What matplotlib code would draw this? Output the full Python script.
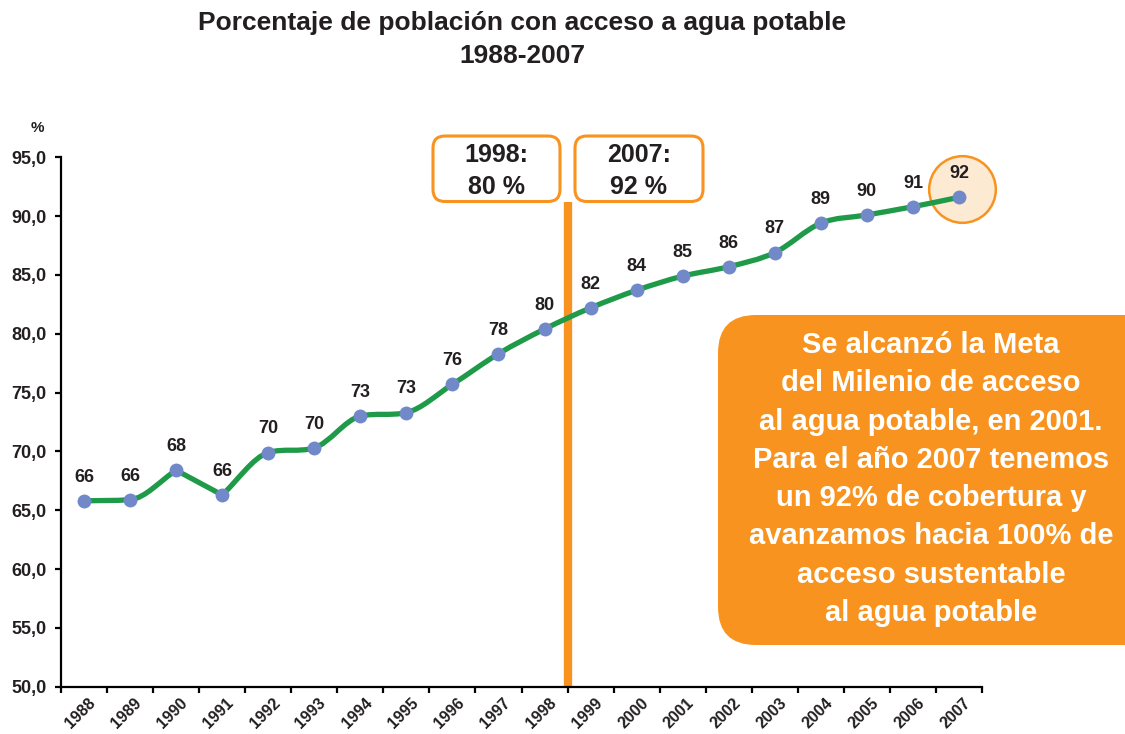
import matplotlib
matplotlib.use("Agg")
import matplotlib.pyplot as plt
from matplotlib.path import Path
from matplotlib.patches import PathPatch, FancyBboxPatch
from matplotlib.transforms import ScaledTranslation
import numpy as np

plt.rcParams['font.family'] = ['Liberation Sans', 'DejaVu Sans']
plt.rcParams['font.weight'] = 'bold'

# ---- data ----
years = ['1988', '1989', '1990', '1991', '1992', '1993', '1994', '1995', '1996', '1997',
         '1998', '1999', '2000', '2001', '2002', '2003', '2004', '2005', '2006', '2007']
values = [65.8, 65.9, 68.4, 66.3, 69.9, 70.3, 73.0, 73.3, 75.7, 78.3,
          80.4, 82.2, 83.7, 84.9, 85.7, 86.9, 89.4, 90.1, 90.8, 91.6]
point_labels = ['66', '66', '68', '66', '70', '70', '73', '73', '76', '78',
                '80', '82', '84', '85', '86', '87', '89', '90', '91', '92']
yticks = [50, 55, 60, 65, 70, 75, 80, 85, 90, 95]
ytick_labels = ['50,0', '55,0', '60,0', '65,0', '70,0', '75,0', '80,0', '85,0', '90,0', '95,0']
title_lines = ['Porcentaje de población con acceso a agua potable', '1988-2007']
box_texts = ['1998:\n80 %', '2007:\n92 %']
callout_lines = ['Se alcanzó la Meta', 'del Milenio de acceso', 'al agua potable, en 2001.',
                 'Para el año 2007 tenemos', 'un 92% de cobertura y',
                 'avanzamos hacia 100% de', 'acceso sustentable', 'al agua potable']
marker_year = '1998'

ORANGE = '#F7931E'
GREEN = '#1F9A48'
BLUE = '#7189C9'
TXT = '#231F20'

W, H, DPI = 1125, 734, 100
fig = plt.figure(figsize=(W / DPI, H / DPI), dpi=DPI)
fig.patch.set_facecolor('white')

ax = fig.add_axes([61 / W, 1 - 686.7 / H, (982 - 61) / W, (686.7 - 157.3) / H])
x = np.arange(len(years), dtype=float)
y = np.array(values, dtype=float)
ax.set_xlim(-0.5, len(years) - 0.5)
ax.set_ylim(50, 95)

# smoothed line: cubic Bezier through the data points,
# monotone-limited tangents and corners at local extrema
d = np.diff(y) / np.diff(x)
n = len(y)
m_left = np.zeros(n)
m_right = np.zeros(n)
m_right[0] = d[0]
m_left[-1] = d[-1]
for i in range(1, n - 1):
    a, b = d[i - 1], d[i]
    if a * b <= 0:
        m_left[i], m_right[i] = a, b
    else:
        m = (a + b) / 2.0
        lim = 3 * min(abs(a), abs(b))
        m = np.sign(m) * min(abs(m), lim)
        m_left[i] = m_right[i] = m
verts = [(x[0], y[0])]
codes = [Path.MOVETO]
for i in range(n - 1):
    h = x[i + 1] - x[i]
    verts += [(x[i] + h / 3, y[i] + m_right[i] * h / 3),
              (x[i + 1] - h / 3, y[i + 1] - m_left[i + 1] * h / 3),
              (x[i + 1], y[i + 1])]
    codes += [Path.CURVE4] * 3
ax.add_patch(PathPatch(Path(verts, codes), fill=False, edgecolor=GREEN, lw=3.8,
                       capstyle='round', joinstyle='round', zorder=3))
ax.plot(x, y, 'o', color=BLUE, markersize=10, markeredgewidth=0, zorder=4)

# vertical orange marker between 1998 and 1999
xi = years.index(marker_year) + 0.5
ax.plot([xi, xi], [50, 91.2], color=ORANGE, lw=6, solid_capstyle='butt', zorder=2, clip_on=False)

# highlight circle on last point
off = ScaledTranslation(2.5 / 72, 6 / 72, fig.dpi_scale_trans)
ax.plot([x[-1]], [y[-1]], 'o', markersize=48, markerfacecolor='#FDEAD3',
        markeredgecolor=ORANGE, markeredgewidth=1.8, zorder=1, clip_on=False,
        transform=ax.transData + off)

for xv, yv, lab in zip(x, y, point_labels):
    ax.annotate(lab, (xv, yv), xytext=(0, 17), textcoords='offset points',
                ha='center', va='center', fontsize=13, fontweight='bold', color=TXT, zorder=5)

# axes styling
for s in ['top', 'right']:
    ax.spines[s].set_visible(False)
for s in ['left', 'bottom']:
    ax.spines[s].set_linewidth(1.6)
    ax.spines[s].set_color('black')
ax.set_yticks(yticks)
ax.set_yticklabels(ytick_labels, fontsize=13, fontweight='bold', color=TXT)
ax.tick_params(axis='y', direction='out', length=4.5, width=1.6, pad=6)
ax.set_xticks(np.arange(-0.5, len(years), 1.0))
ax.set_xticklabels([])
ax.tick_params(axis='x', which='major', direction='out', length=4.5, width=1.6)
ax.set_xticks(x, minor=True)
ax.set_xticklabels(years, minor=True, rotation=45, ha='right', va='top',
                   rotation_mode='anchor', fontsize=11.5, fontweight='bold', color=TXT)
ax.tick_params(axis='x', which='minor', length=0, pad=6)
dx = ScaledTranslation(4 / 100, 0, fig.dpi_scale_trans)
for lbl in ax.get_xticklabels(minor=True):
    lbl.set_transform(lbl.get_transform() + dx)

# overlay in pixel coordinates for annotations
ov = fig.add_axes([0, 0, 1, 1], zorder=10)
ov.set_xlim(0, W)
ov.set_ylim(H, 0)
ov.axis('off')
ov.patch.set_visible(False)

ov.text(522, 23, title_lines[0], ha='center', va='center', fontsize=19, fontweight='bold', color=TXT)
ov.text(522, 56, title_lines[1], ha='center', va='center', fontsize=19, fontweight='bold', color=TXT)
ov.text(37, 128, '%', ha='center', va='center', fontsize=11, fontweight='bold', color=TXT)

for (x0, x1), t in zip([(433, 560), (575, 703)], box_texts):
    ov.add_patch(FancyBboxPatch((x0, 136), x1 - x0, 65.5,
                                boxstyle='round,pad=0,rounding_size=12',
                                facecolor='white', edgecolor=ORANGE, lw=2.2))
    l1, l2 = t.split('\n')
    ov.text((x0 + x1) / 2, 155, l1, ha='center', va='center', fontsize=18, fontweight='bold', color=TXT)
    ov.text((x0 + x1) / 2, 187, l2, ha='center', va='center', fontsize=18, fontweight='bold', color=TXT)

ov.add_patch(FancyBboxPatch((718, 315), 460, 330,
                            boxstyle='round,pad=0,rounding_size=38',
                            facecolor=ORANGE, edgecolor='none'))
for i, line in enumerate(callout_lines):
    ov.text(931, 345 + i * 38.3, line, ha='center', va='center', fontsize=21,
            fontweight='bold', color='white')

fig.savefig('out.png', dpi=DPI, facecolor='white')
